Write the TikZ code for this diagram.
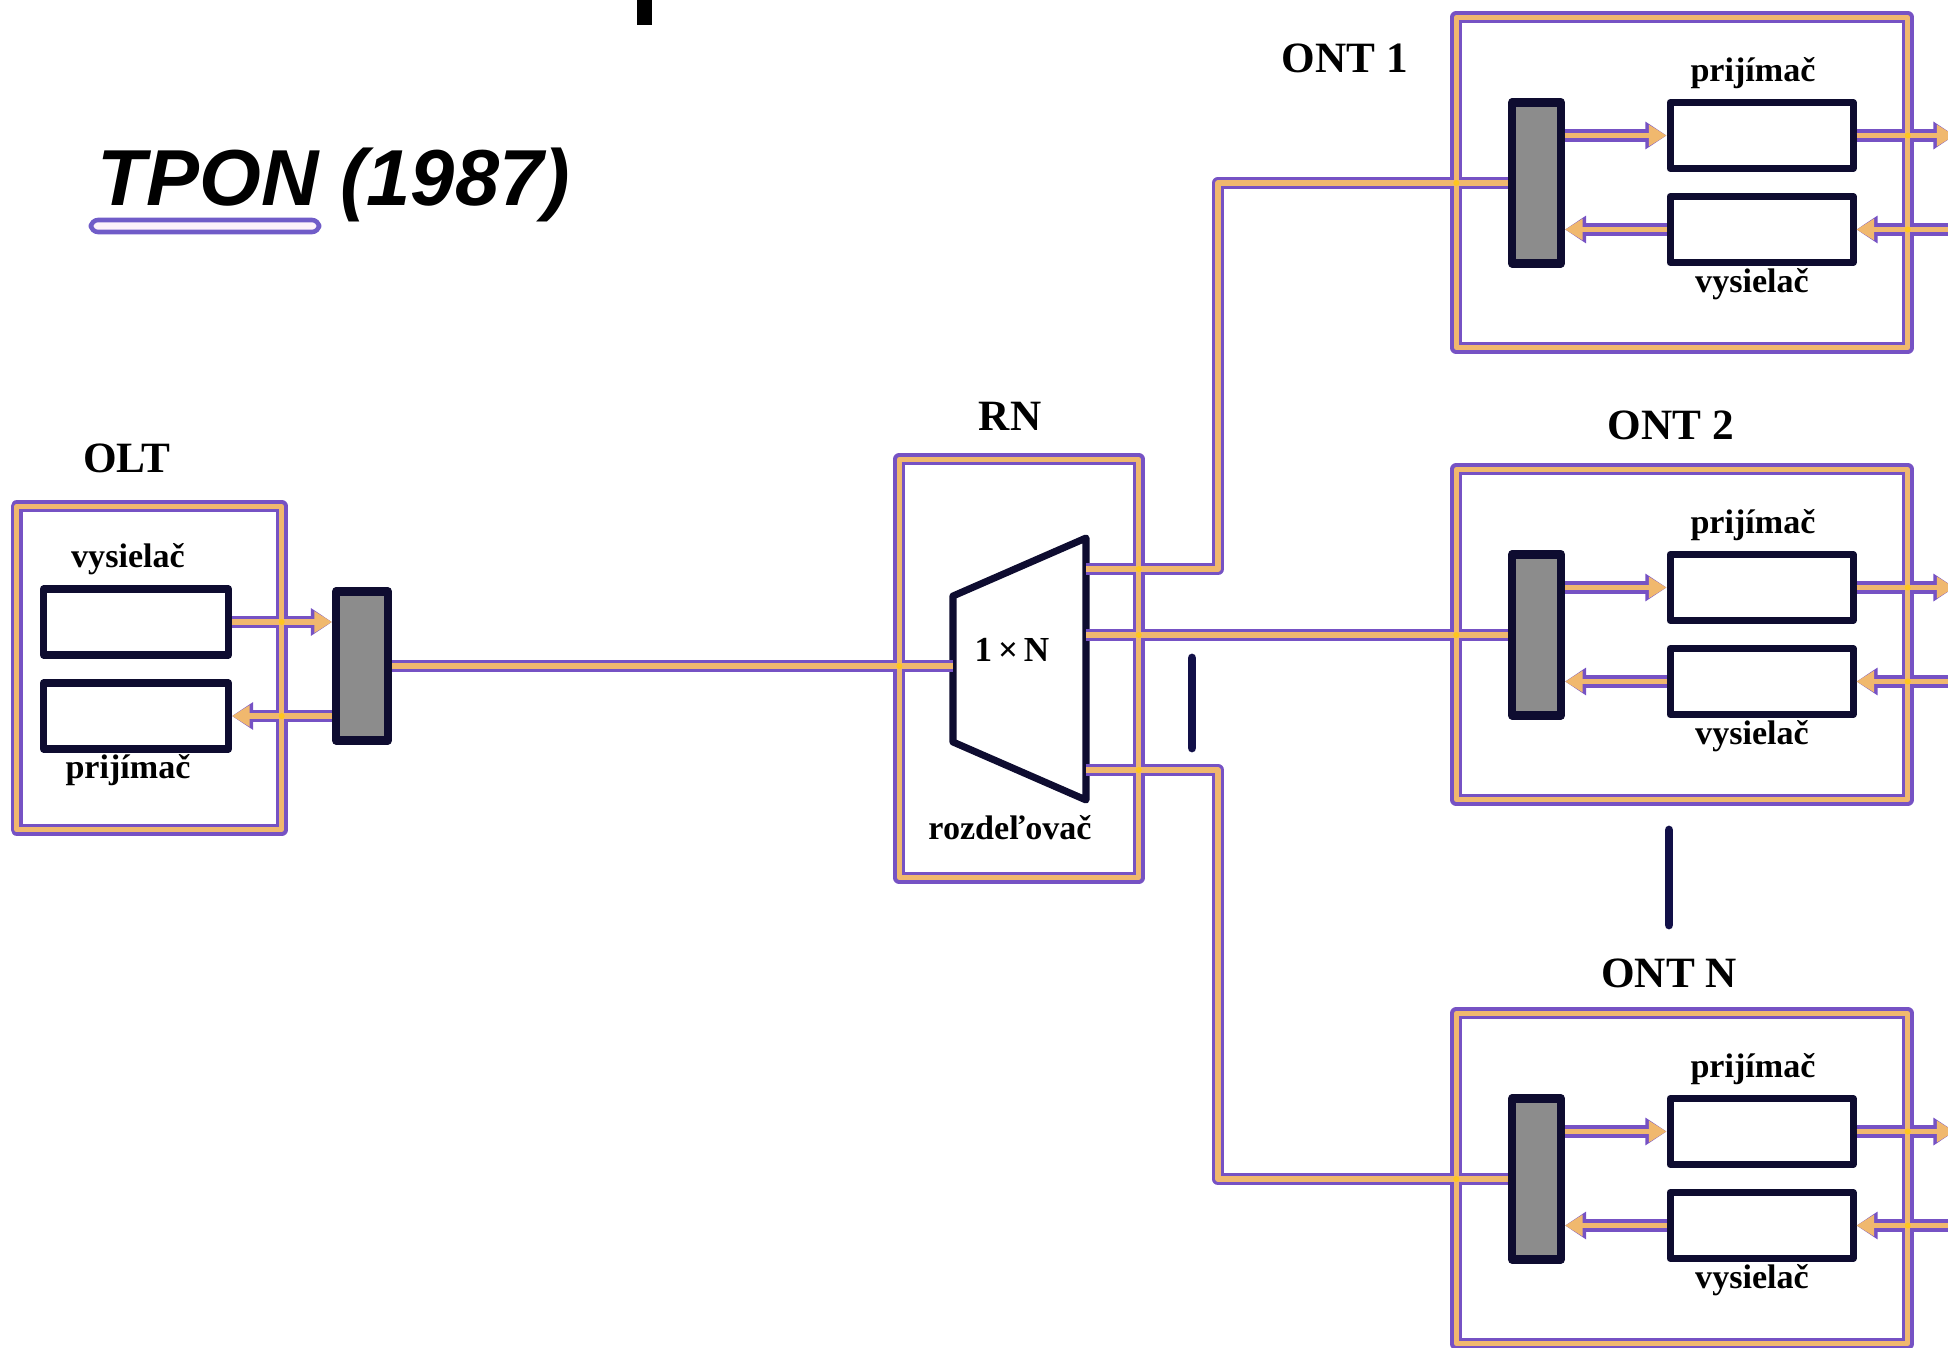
\documentclass[tikz,border=0pt]{standalone}
\usepackage{fontspec}
\setmainfont{Liberation Serif}
\newfontfamily\titlefont{Liberation Sans}
\usetikzlibrary{arrows.meta, positioning}

\definecolor{fibpurple}{RGB}{118,82,196}
\definecolor{fibtan}{RGB}{240,184,110}
\definecolor{fibjoint}{RGB}{255,198,30}
\definecolor{boxline}{RGB}{14,12,48}
\definecolor{muxgray}{RGB}{140,140,140}
\definecolor{barnavy}{RGB}{18,16,72}
\definecolor{ulpurple}{RGB}{112,92,200}
\definecolor{ulfill}{RGB}{253,242,250}

% fibre paths, drawn twice (purple outline, then tan core)
\newcommand{\fibrenet}{%
  \draw (olt.south west) rectangle (olt.north east);
  \draw (rn.south west) rectangle (rn.north east);
  \draw[->] (txo.east) -- (txo.east -| muxo.west);
  \draw[<-] (rxo.east) -- (rxo.east -| muxo.west);
  \draw (muxo.east |- splin) -- (splin);
  \draw (splo1) -| (bend |- mux1.west) -- (mux1.west);
  \draw (splo2) -- (splo2 -| mux2.west);
  \draw (splo3) -| (bend |- muxN.west) -- (muxN.west);
  \foreach \n in {1,2,N} {
    \draw (ont\n.south west) rectangle (ont\n.north east);
    \draw[->] (mux\n.east |- rx\n) -- (rx\n.west);
    \draw[<-] (mux\n.east |- tx\n) -- (tx\n.west);
    \draw[->] (rx\n.east) -- ++(0.98,0);
    \draw[<-] (tx\n.east) -- ++(1.1,0);
  }
}

\begin{document}
\begin{tikzpicture}[line join=round,
  unit/.style={draw=boxline, line width=2pt, fill=white, minimum width=1.83cm, minimum height=0.66cm, inner sep=0pt},
  mux/.style={draw=boxline, line width=2.3pt, fill=muxgray, minimum width=0.49cm, minimum height=1.61cm, inner sep=0pt},
  frame/.style={rectangle, inner sep=0pt},
  lbl/.style={font=\bfseries\fontsize{9.7}{11}\selectfont, inner sep=0pt},
  head/.style={font=\bfseries\fontsize{12.3}{14}\selectfont, inner sep=0pt},
  joint/.style={fill=fibjoint},
  dotbar/.style={draw=barnavy, line width=2.5pt, line cap=round}]
  \useasboundingbox (0,0) rectangle (19.48,-13.48);

  % title
  \fill[black] (6.37,0.05) rectangle (6.52,-0.25);
  \node[anchor=base west, inner sep=0pt, font=\titlefont\bfseries\itshape\fontsize{22.6}{26}\selectfont] (title) at (0.97,-2.05) {TPON (1987)};
  \draw[draw=ulpurple, fill=ulfill, line width=1.3pt, rounded corners=2pt] (0.91,-2.20) rectangle (3.19,-2.32);

  % OLT
  \node[frame, minimum width=2.635cm, minimum height=3.22cm] (olt) at (1.4925,-6.68) {};
  \node[head] at (1.27,-4.58) {OLT};
  \node[unit, minimum width=1.85cm] (txo) at (1.36,-6.22) {};
  \node[unit, minimum width=1.85cm] (rxo) at (1.36,-7.16) {};
  \node[lbl] at (1.28,-5.59) {vysielač};
  \node[lbl] at (1.28,-7.70) {prijímač};
  \node[mux, minimum width=0.52cm, minimum height=1.49cm] (muxo) at (3.62,-6.66) {};

  % RN
  \node[frame, minimum width=2.38cm, minimum height=4.17cm] (rn) at (10.19,-6.685) {};
  \node[head] at (10.10,-4.16) {RN};
  \draw[draw=boxline, line width=2pt, fill=white] (9.53,-5.96) -- (10.86,-5.38) -- (10.86,-8.00) -- (9.53,-7.42) -- cycle;
  \node[lbl, font=\bfseries\fontsize{10}{12}\selectfont] at (10.12,-6.50) {1\,×\,N};
  \node[lbl] at (10.10,-8.28) {rozdeľovač};
  \coordinate (splin) at (9.53,-6.66);
  \coordinate (splo1) at (10.86,-5.69);
  \coordinate (splo2) at (10.86,-6.35);
  \coordinate (splo3) at (10.86,-7.70);
  \coordinate (bend) at (12.18,0);

  % ONTs
  \foreach \n/\t in {1/0.18, 2/4.70, N/10.14} {
    \node[frame, minimum width=4.50cm, minimum height=3.29cm] (ont\n) at (16.82,-\t-1.645) {};
    \node[mux] (mux\n) at (15.365,-\t-1.65) {};
    \node[unit] (rx\n) at (17.615,-\t-1.175) {};
    \node[unit] (tx\n) at (17.615,-\t-2.115) {};
    \node[lbl] at (17.53,-\t-0.55) {prijímač};
    \node[lbl] at (17.52,-\t-2.66) {vysielač};
  }
  \node[head] at (13.45,-0.58) {ONT 1};
  \node[head] at (16.71,-4.25) {ONT 2};
  \node[head] at (16.69,-9.73) {ONT N};

  % fibres
  \begin{scope}[color=fibpurple, line width=3.5pt, >={Triangle[length=6pt, width=7.5pt]}]
    \fibrenet
  \end{scope}
  \begin{scope}[color=fibtan, line width=1.5pt, >={Triangle[length=5pt, width=5.8pt]}]
    \fibrenet
  \end{scope}

  % crossings
  \foreach \p in {olt.east |- txo, olt.east |- rxo, rn.west |- splin, rn.east |- splo1, rn.east |- splo2, rn.east |- splo3}
    \fill[joint] (\p) circle (0.03);
  \foreach \n in {1,2,N} {
    \fill[joint] (ont\n.west |- mux\n) circle (0.03);
    \fill[joint] (ont\n.east |- rx\n) circle (0.03);
    \fill[joint] (ont\n.east |- tx\n) circle (0.03);
  }

  % more ONTs
  \draw[dotbar] (11.92,-6.58) -- (11.92,-7.48);
  \draw[dotbar] (16.69,-8.30) -- (16.69,-9.25);
\end{tikzpicture}
\end{document}
